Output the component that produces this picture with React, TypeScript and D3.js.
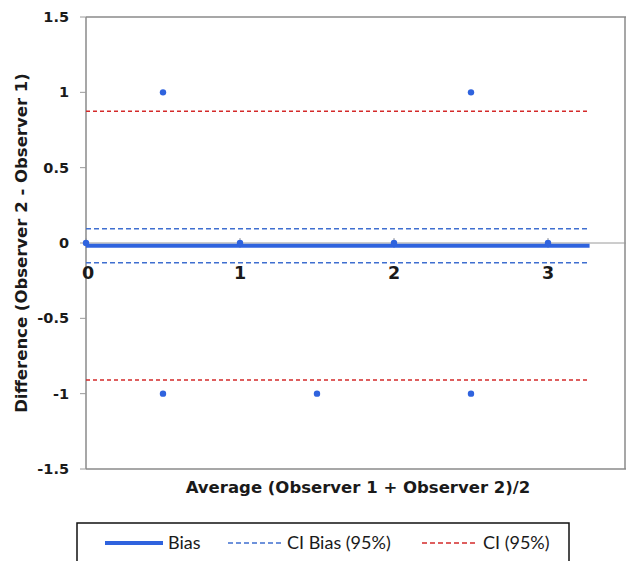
import * as d3 from "d3";

// measured points (average, difference)
const avgValues = [0, 0.5, 0.5, 1, 1.5, 2, 2.5, 2.5, 3];
const diffValues = [0, 1, -1, 0, -1, 0, 1, -1, 0];

const bias = -0.018;
const ciBias = [-0.131, 0.095];
const ci = [-0.91, 0.875];
const lineExtent = [0, 3.27];

const xTicks = [0, 1, 2, 3];
const yTicks = [-1.5, -1, -0.5, 0, 0.5, 1, 1.5];

const legendItems = [
  { label: "Bias", color: "#2f63de", dash: "", width: 4 },
  { label: "CI Bias (95%)", color: "#3f6fd0", dash: "5,3", width: 1.5 },
  { label: "CI (95%)", color: "#d42a2a", dash: "5,3", width: 1.5 },
];

const W = 626;
const H = 561;
const margin = { top: 17, right: 1, bottom: 92, left: 86 };

export default function App() {
  const x = d3.scaleLinear().domain([0, 3.5]).range([margin.left, W - margin.right]);
  const y = d3.scaleLinear().domain([-1.5, 1.5]).range([H - margin.bottom, margin.top]);
  const points = avgValues.map((a, i) => ({ a, d: diffValues[i] }));

  const hline = (v: number) =>
    d3.line<number>().x((d) => x(d)).y(() => y(v))(lineExtent) ?? "";

  const bold = { fontFamily: "DejaVu Sans", fontWeight: 700 };
  // legend line start, line length
  const legendPos = [
    [105, 58],
    [228, 54],
    [422, 56],
  ];

  return (
    <svg
      width={W}
      height={H}
      style={{ position: "absolute", left: 0, top: 0, background: "#fff" }}
    >
      {/* plot frame */}
      <line x1={x(0)} x2={W} y1={y(1.5)} y2={y(1.5)} stroke="#8a8a8a" strokeWidth={1.5} />
      <line x1={x(0)} x2={W} y1={y(-1.5)} y2={y(-1.5)} stroke="#8a8a8a" strokeWidth={1.5} />
      <line x1={x(0)} x2={x(0)} y1={y(1.5)} y2={y(-1.5)} stroke="#8a8a8a" strokeWidth={1.5} />
      <line x1={W - 1} x2={W - 1} y1={y(1.5)} y2={y(-1.5)} stroke="#8a8a8a" strokeWidth={1.5} />
      {/* zero axis */}
      <line x1={x(0)} x2={W} y1={y(0)} y2={y(0)} stroke="#9a9a9a" strokeWidth={1} />

      {/* y ticks */}
      {yTicks.map((t) => (
        <g key={t} transform={`translate(0,${y(t)})`}>
          <line x1={x(0) - 6} x2={x(0)} stroke="#9a9a9a" />
          <text x={69} dy="0.35em" textAnchor="end" fontSize={14.5} {...bold} fill="#1a1a1a">
            {t}
          </text>
        </g>
      ))}

      {/* x ticks */}
      {xTicks.map((t) => (
        <g key={t} transform={`translate(${x(t)},${y(0)})`}>
          <line y1={-5} y2={5} stroke="#9a9a9a" />
          <text x={t === 0 ? 2 : 0} y={36} textAnchor="middle" fontSize={17.5} {...bold} fill="#1a1a1a">
            {t}
          </text>
        </g>
      ))}

      {/* limits */}
      <path d={hline(ci[1])} stroke="#d42a2a" strokeWidth={1.5} strokeDasharray="4,3" fill="none" />
      <path d={hline(ci[0])} stroke="#d42a2a" strokeWidth={1.5} strokeDasharray="4,3" fill="none" />
      <path d={hline(ciBias[1])} stroke="#3f6fd0" strokeWidth={1.5} strokeDasharray="5,3" fill="none" />
      <path d={hline(ciBias[0])} stroke="#3f6fd0" strokeWidth={1.5} strokeDasharray="5,3" fill="none" />
      <path d={hline(bias)} stroke="#2f63de" strokeWidth={4} fill="none" />

      {/* points */}
      {points.map((p, i) => (
        <circle key={i} cx={x(p.a)} cy={y(p.d)} r={3.2} fill="#2f63de" />
      ))}

      {/* axis titles */}
      <text
        transform={`translate(21,${y(0)}) rotate(-90)`}
        textAnchor="middle"
        dy="0.35em"
        fontSize={16.5}
        {...bold}
        fill="#1a1a1a"
      >
        Difference (Observer 2 - Observer 1)
      </text>
      <text x={358} y={487} dy="0.35em" textAnchor="middle" fontSize={16.5} {...bold} fill="#1a1a1a">
        Average (Observer 1 + Observer 2)/2
      </text>

      {/* legend */}
      <rect x={77} y={523} width={492} height={40} fill="#fff" stroke="#111" strokeWidth={1.5} />
      {legendItems.map((it, i) => {
        const [lx, len] = legendPos[i];
        return (
          <g key={it.label} transform={`translate(${lx},543)`}>
            <line x2={len} stroke={it.color} strokeWidth={it.width} strokeDasharray={it.dash} />
            <text x={len + 5} dy="0.35em" fontSize={18} fontFamily="Lato" fill="#1a1a1a">
              {it.label}
            </text>
          </g>
        );
      })}
    </svg>
  );
}
